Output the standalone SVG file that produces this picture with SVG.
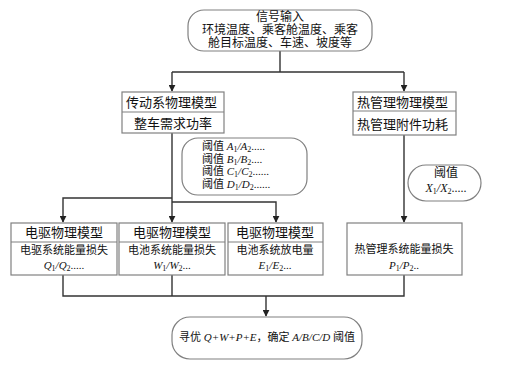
<svg xmlns="http://www.w3.org/2000/svg" width="518" height="365" viewBox="0 0 518 365">
<defs>
<marker id="ah" viewBox="0 0 10 10" refX="9" refY="5" markerWidth="7" markerHeight="7" markerUnits="userSpaceOnUse" orient="auto">
<path d="M0,0 L10,5 L0,10 Z" fill="#222"/>
</marker>
<style>
.box{fill:#fff;stroke:#808080;stroke-width:1.2}
.div{stroke:#808080;stroke-width:1.2}
.ln{fill:none;stroke:#333;stroke-width:1.4}
text{font-family:"Liberation Serif","Noto Sans CJK SC",serif;fill:#111}
.t13{font-size:13px}
.t12{font-size:12px}
.t11{font-size:11px}
.i{font-style:italic}
.sub{font-size:8px}
</style>
</defs>
<rect width="518" height="365" fill="#fff"/>

<g id="connectors">
<path class="ln" d="M280,51 V72 M172,72 H404"/>
<path class="ln" d="M172,72 V91" marker-end="url(#ah)"/>
<path class="ln" d="M404,72 V91" marker-end="url(#ah)"/>
<path class="ln" d="M172,133 V222" marker-end="url(#ah)"/>
<path class="ln" d="M172,198 H63 V222" marker-end="url(#ah)"/>
<path class="ln" d="M172,202 H276 V222" marker-end="url(#ah)"/>
<path class="ln" d="M404,135 V222" marker-end="url(#ah)"/>
<path class="ln" d="M63,275 V296 H404 V275 M172,275 V296"/>
<path class="ln" d="M266,296 V316" marker-end="url(#ah)"/>
</g>

<g id="input">
<rect class="box" x="188" y="10" width="184" height="41" rx="16"/>
<text class="t12" x="280" y="21" text-anchor="middle">信号输入</text>
<text class="t12" x="280" y="34" text-anchor="middle">环境温度、乘客舱温度、乘客</text>
<text class="t12" x="280" y="47" text-anchor="middle">舱目标温度、车速、坡度等</text>
</g>

<g id="drivetrain">
<rect class="box" x="122" y="92" width="102" height="41"/>
<line class="div" x1="122" y1="112" x2="224" y2="112"/>
<text class="t13" x="126" y="107">传动系物理模型</text>
<text class="t13" x="173" y="128" text-anchor="middle">整车需求功率</text>
</g>

<g id="thermal">
<rect class="box" x="353" y="92" width="103" height="43"/>
<line class="div" x1="353" y1="111" x2="456" y2="111"/>
<text class="t13" x="357" y="107">热管理物理模型</text>
<text class="t13" x="357" y="129">热管理附件功耗</text>
</g>

<g id="thresholds">
<rect class="box" x="182" y="138" width="125" height="57" rx="16"/>
<text class="t11" x="202" y="150">阈值 <tspan class="i">A</tspan><tspan class="sub" dy="2">1</tspan><tspan class="i" dy="-2">/A</tspan><tspan class="sub" dy="2">2</tspan><tspan dy="-2">.....</tspan></text>
<text class="t11" x="202" y="162.5">阈值 <tspan class="i">B</tspan><tspan class="sub" dy="2">1</tspan><tspan class="i" dy="-2">/B</tspan><tspan class="sub" dy="2">2</tspan><tspan dy="-2">....</tspan></text>
<text class="t11" x="202" y="175">阈值 <tspan class="i">C</tspan><tspan class="sub" dy="2">1</tspan><tspan class="i" dy="-2">/C</tspan><tspan class="sub" dy="2">2</tspan><tspan dy="-2">......</tspan></text>
<text class="t11" x="202" y="187.5">阈值 <tspan class="i">D</tspan><tspan class="sub" dy="2">1</tspan><tspan class="i" dy="-2">/D</tspan><tspan class="sub" dy="2">2</tspan><tspan dy="-2">......</tspan></text>
</g>

<g id="thresholdX">
<rect class="box" x="408" y="165" width="73" height="36" rx="18"/>
<text class="t12" x="446" y="177" text-anchor="middle">阈值</text>
<text class="t12" x="446" y="192" text-anchor="middle"><tspan class="i">X</tspan><tspan class="sub" dy="2">1</tspan><tspan class="i" dy="-2">/X</tspan><tspan class="sub" dy="2">2</tspan><tspan dy="-2">.....</tspan></text>
</g>

<g id="motor">
<rect class="box" x="11" y="223" width="106" height="52"/>
<line class="div" x1="11" y1="242" x2="117" y2="242"/>
<text class="t13" x="64" y="237" text-anchor="middle">电驱物理模型</text>
<text class="t11" x="64" y="254" text-anchor="middle">电驱系统能量损失</text>
<text class="t11" x="64" y="269" text-anchor="middle"><tspan class="i">Q</tspan><tspan class="sub" dy="2">1</tspan><tspan class="i" dy="-2">/Q</tspan><tspan class="sub" dy="2">2</tspan><tspan dy="-2">.....</tspan></text>
</g>

<g id="battery">
<rect class="box" x="119" y="223" width="106" height="52"/>
<line class="div" x1="119" y1="242" x2="225" y2="242"/>
<text class="t13" x="172" y="237" text-anchor="middle">电驱物理模型</text>
<text class="t11" x="172" y="254" text-anchor="middle">电池系统能量损失</text>
<text class="t11" x="172" y="269" text-anchor="middle"><tspan class="i">W</tspan><tspan class="sub" dy="2">1</tspan><tspan class="i" dy="-2">/W</tspan><tspan class="sub" dy="2">2</tspan><tspan dy="-2">...</tspan></text>
</g>

<g id="discharge">
<rect class="box" x="228" y="223" width="95" height="52"/>
<line class="div" x1="228" y1="242" x2="323" y2="242"/>
<text class="t13" x="236" y="237">电驱物理模型</text>
<text class="t11" x="275" y="254" text-anchor="middle">电池系统放电量</text>
<text class="t11" x="275" y="269" text-anchor="middle"><tspan class="i">E</tspan><tspan class="sub" dy="2">1</tspan><tspan class="i" dy="-2">/E</tspan><tspan class="sub" dy="2">2</tspan><tspan dy="-2">...</tspan></text>
</g>

<g id="thermalloss">
<rect class="box" x="347" y="223" width="115" height="52"/>
<text class="t11" x="404" y="253" text-anchor="middle">热管理系统能量损失</text>
<text class="t11" x="404" y="269" text-anchor="middle"><tspan class="i">P</tspan><tspan class="sub" dy="2">1</tspan><tspan class="i" dy="-2">/P</tspan><tspan class="sub" dy="2">2</tspan><tspan dy="-2">..</tspan></text>
</g>

<g id="optimize">
<rect class="box" x="172" y="317" width="190" height="42" rx="18"/>
<text class="t11" x="267" y="341" text-anchor="middle">寻优 <tspan class="i">Q+W+P+E</tspan>，确定 <tspan class="i">A/B/C/D</tspan> 阈值</text>
</g>
</svg>
